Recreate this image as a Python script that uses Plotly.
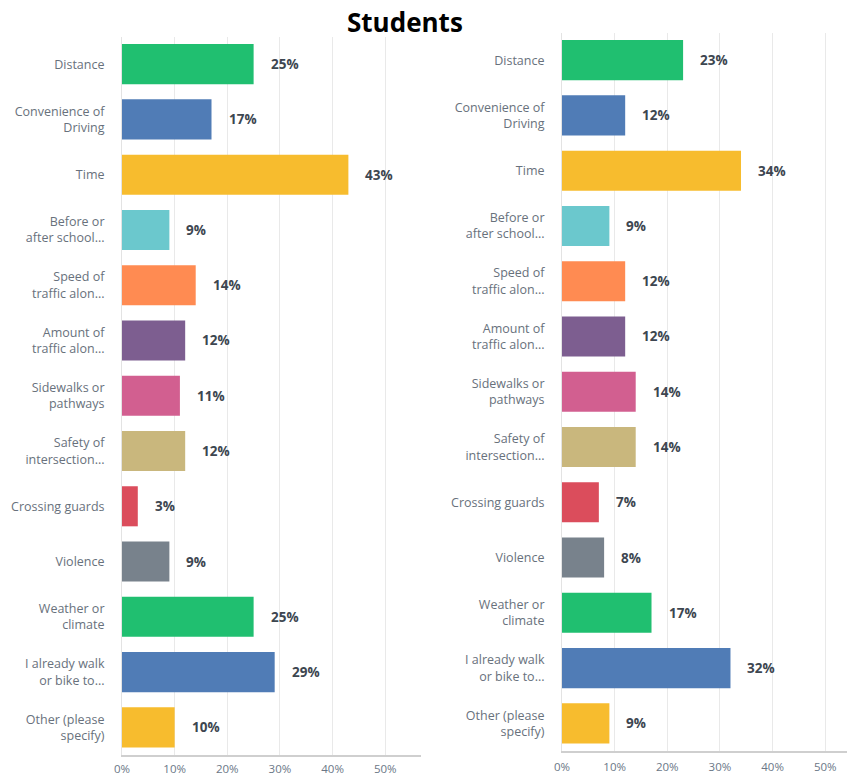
import plotly.graph_objects as go

# Survey answer categories (same for both panels)
categories = [
    "Distance",
    "Convenience of<br>Driving",
    "Time",
    "Before or<br>after school...",
    "Speed of<br>traffic alon...",
    "Amount of<br>traffic alon...",
    "Sidewalks or<br>pathways",
    "Safety of<br>intersection...",
    "Crossing guards",
    "Violence",
    "Weather or<br>climate",
    "I already walk<br>or bike to...",
    "Other (please<br>specify)",
]

# Percent of respondents per category
left_values = [25, 17, 43, 9, 14, 12, 11, 12, 3, 9, 25, 29, 10]
right_values = [23, 12, 34, 9, 12, 12, 14, 14, 7, 8, 17, 32, 9]

bar_colors = [
    "#20bf70", "#507cb6", "#f7bc2e", "#6bc8cd", "#ff8b52", "#7d5e90",
    "#d25f90", "#c9b77d", "#db4d5c", "#78828c", "#20bf70", "#507cb6", "#f7bc2e",
]

tick_vals = [0, 10, 20, 30, 40, 50]
tick_text = ["0%", "10%", "20%", "30%", "40%", "50%"]

W, H = 847, 778
PX_PER_PCT = 5.265

# Panel geometry in pixels: (left, right, top, bottom)
panels = [
    (122, 421, 36.5, 755),
    (562, 847, 32.5, 751),
]

label_font = dict(family="Open Sans, sans-serif", size=12.5, color="#68717c")
value_font = dict(family="Open Sans, sans-serif", size=13.5, color="#3d4650")

fig = go.Figure()
layout_axes = {}
annotations = []

for i, (values, (x0, x1, top, bottom)) in enumerate(zip([left_values, right_values], panels)):
    n = "" if i == 0 else str(i + 1)
    xa, ya = "x" + n, "y" + n
    fig.add_trace(go.Bar(
        x=values, y=categories, orientation="h",
        marker=dict(color=bar_colors, line=dict(width=0)),
        xaxis=xa, yaxis=ya, showlegend=False, hoverinfo="skip",
    ))
    layout_axes["xaxis" + n] = dict(
        domain=[x0 / W, x1 / W],
        range=[0, (x1 - x0) / PX_PER_PCT],
        tickvals=tick_vals, ticktext=tick_text,
        tickfont=dict(family="Open Sans, sans-serif", size=11.5, color="#6b7787"),
        showgrid=True, gridcolor="#e9e9e9", gridwidth=1,
        zeroline=False,
        showline=True, linecolor="#cfcfcf", linewidth=1.5,
        ticks="", ticklabelstandoff=2 if i == 0 else 4,
        anchor=ya, fixedrange=True, automargin=False,
    )
    layout_axes["yaxis" + n] = dict(
        domain=[(H - bottom) / H, (H - top) / H],
        type="category", autorange="reversed",
        tickfont=label_font,
        showgrid=False, zeroline=False,
        showline=True, linecolor="#e3e3e3", linewidth=1,
        ticks="", ticklabelstandoff=14,
        anchor=xa, fixedrange=True, automargin=False,
    )
    for cat, v in zip(categories, values):
        annotations.append(dict(
            x=v, y=cat, xref=xa, yref=ya,
            text="<b>%d%%</b>" % v, showarrow=False,
            xanchor="left", yanchor="middle", xshift=15,
            font=value_font,
        ))

annotations.append(dict(
    x=405 / W, y=(H - 22) / H, xref="paper", yref="paper",
    text="<b>Students</b>", showarrow=False,
    xanchor="center", yanchor="middle",
    font=dict(family="Open Sans, sans-serif", size=26, color="#000000"),
))

fig.update_layout(
    width=W, height=H,
    margin=dict(l=0, r=0, t=0, b=0, autoexpand=False),
    paper_bgcolor="white", plot_bgcolor="white",
    bargap=0.275,
    annotations=annotations,
    **layout_axes,
)

fig.write_html("out.html")
